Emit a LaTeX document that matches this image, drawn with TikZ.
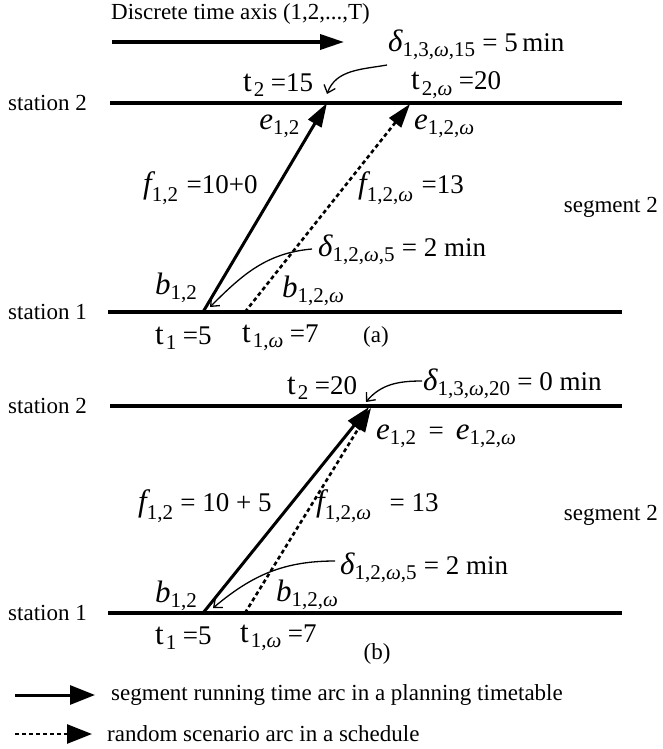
\documentclass[tikz,border=0pt]{standalone}
\usepackage{fontspec}
\usepackage{amsmath}
\setmainfont{Liberation Serif}
\DeclareMathSizes{27}{27}{21}{15}
\usetikzlibrary{arrows.meta}
\newcommand{\mi}[1]{\text{\itshape #1}}
\newcommand{\mv}[1]{\text{\fontsize{31}{31}\selectfont\itshape #1}}
\newcommand{\ms}[1]{\text{#1}}
\newcommand{\tl}[2]{$\text{\fontsize{31}{31}\selectfont t\hspace{2pt}}_{\ms{#1}}\ms{\hspace{6pt}#2}$}
\begin{document}
\begin{tikzpicture}[x=1pt,y=-1pt,
  txt/.style={inner sep=0pt,font=\fontsize{23}{26}\selectfont},
  mth/.style={inner sep=0pt,font=\fontsize{27}{30}\selectfont},
  stline/.style={line width=3.2pt},
  planarc/.style={line width=3pt,-{Triangle[length=24pt,width=15pt]}},
  scenarc/.style={line width=2.6pt,dash pattern=on 4pt off 3pt,-{Triangle[length=24pt,width=15pt]}},
  pointer/.style={line width=1.3pt,-{Straight Barb[length=7pt,width=12pt]}}]
\useasboundingbox (0,0) rectangle (662,749);

% ---------- (a) ----------
\node[txt,anchor=west] (title) at (111,14) {Discrete time axis (1,2,...,T)};
\coordinate (axL) at (112,42); \coordinate (axR) at (344,42);
\draw[planarc,line width=3.6pt] (axL) -- (axR);
\node[mth,anchor=west] (dA) at (388,45) {$\mv{δ}_{\ms{1,3,\mi{ω},15}}\ms{ = 5\,min}$};

\node[txt,anchor=west] (st2a) at (8,103) {station 2};
\coordinate (s2aL) at (110,103); \coordinate (s2aR) at (622,103);
\draw[stline] (s2aL) -- (s2aR);
\node[mth,anchor=west] (t2a) at (243,85) {\tl{2}{=15}};
\node[mth,anchor=west] (t2wa) at (411,85) {\tl{2,\mi{ω}}{=20}};

\node[txt,anchor=west] (st1a) at (8,312) {station 1};
\coordinate (s1aL) at (108,312); \coordinate (s1aR) at (622,312);
\draw[stline] (s1aL) -- (s1aR);

\coordinate (ba) at (203,312); \coordinate (ea) at (327,103);
\coordinate (bwa) at (245,312); \coordinate (ewa) at (410,104);
\draw[planarc] (ba) -- (ea);
\draw[scenarc] (bwa) -- (ewa);

\node[mth,anchor=east] (ela) at (300,126) {$\mv{e}_{\ms{1,2}}$};
\node[mth,anchor=west] (ewla) at (414,126) {$\mv{e}_{\ms{1,2,\mi{ω}}}$};
\node[mth,anchor=west] (fa) at (143,188) {$\mv{f}_{\ms{1,2}}\ms{\hspace{8pt}=10+0}$};
\node[mth,anchor=west] (fwa) at (358,188) {$\mv{f}_{\ms{1,2,\mi{ω}}}\ms{\hspace{8pt}=13}$};
\node[txt,anchor=east] (sega) at (658,207) {segment 2};
\node[mth,anchor=west] (dBa) at (318,250) {$\mv{δ}_{\ms{1,2,\mi{ω},5}}\ms{ = 2 min}$};
\node[mth,anchor=west] (bla) at (155,288) {$\mv{b}_{\ms{1,2}}$};
\node[mth,anchor=west] (bwla) at (282,291) {$\mv{b}_{\ms{1,2,\mi{ω}}}$};
\node[mth,anchor=west] (t1a) at (155,338) {\tl{1}{=5}};
\node[mth,anchor=west] (t1wa) at (242,338) {\tl{1,\mi{ω}}{=7}};
\node[txt] (capa) at (376,337) {(a)};

\coordinate (pAs) at (387,65); \coordinate (pAe) at (327,94);
\draw[pointer] (pAs) to[out=190,in=70] (pAe);
\coordinate (pBs) at (312,249); \coordinate (pBe) at (210,307);
\draw[pointer] (pBs) to[out=185,in=45] (pBe);

% ---------- (b) ----------
\node[txt,anchor=west] (st2b) at (8,406) {station 2};
\coordinate (s2bL) at (110,406); \coordinate (s2bR) at (622,406);
\draw[stline] (s2bL) -- (s2bR);
\node[mth,anchor=west] (t2b) at (287,388) {\tl{2}{=20}};
\node[mth,anchor=west] (dCb) at (423,384) {$\mv{δ}_{\ms{1,3,\mi{ω},20}}\ms{ = 0 min}$};

\node[txt,anchor=west] (st1b) at (8,613) {station 1};
\coordinate (s1bL) at (108,613); \coordinate (s1bR) at (622,613);
\draw[stline] (s1bL) -- (s1bR);

\coordinate (bb) at (203,613); \coordinate (eb) at (369,407);
\coordinate (bwb) at (245,613); \coordinate (ewb) at (371,408);
\draw[scenarc] (bwb) -- (ewb);
\draw[planarc] (bb) -- (eb);

\node[mth,anchor=west] (elb) at (376,436) {$\mv{e}_{\ms{1,2}}\ms{\hspace{12pt}=\hspace{12pt}}\mv{e}_{\ms{1,2,\mi{ω}}}$};
\node[mth,anchor=west] (fb) at (138,506) {$\mv{f}_{\ms{1,2}}\ms{ = 10 + 5}$};
\node[mth,anchor=west] (fwb) at (316,506) {$\mv{f}_{\ms{1,2,\mi{ω}}}\ms{\hspace{18pt}= 13}$};
\node[txt,anchor=east] (segb) at (658,515) {segment 2};
\node[mth,anchor=west] (dDb) at (340,568) {$\mv{δ}_{\ms{1,2,\mi{ω},5}}\ms{ = 2 min}$};
\node[mth,anchor=west] (blb) at (155,596) {$\mv{b}_{\ms{1,2}}$};
\node[mth,anchor=west] (bwlb) at (276,595) {$\mv{b}_{\ms{1,2,\mi{ω}}}$};
\node[mth,anchor=west] (t1b) at (155,638) {\tl{1}{=5}};
\node[mth,anchor=west] (t1wb) at (240,638) {\tl{1,\mi{ω}}{=7}};
\node[txt] (capb) at (377,654) {(b)};

\coordinate (pCs) at (422,381); \coordinate (pCe) at (366,402);
\draw[pointer] (pCs) to[out=180,in=50] (pCe);
\coordinate (pDs) at (335,561); \coordinate (pDe) at (213,608);
\draw[pointer] (pDs) to[out=180,in=40] (pDe);

% ---------- legend ----------
\coordinate (l1s) at (15,695); \coordinate (l1e) at (95,695);
\draw[planarc,-{Triangle[length=25pt,width=19pt]}] (l1s) -- (l1e);
\node[txt,anchor=west] (leg1) at (111,695) {segment running time arc in a planning timetable};
\coordinate (l2s) at (15,734); \coordinate (l2e) at (92,734);
\draw[scenarc,-{Triangle[length=25pt,width=19pt]}] (l2s) -- (l2e);
\node[txt,anchor=west] (leg2) at (107,734) {random scenario arc in a schedule};
\end{tikzpicture}
\end{document}
